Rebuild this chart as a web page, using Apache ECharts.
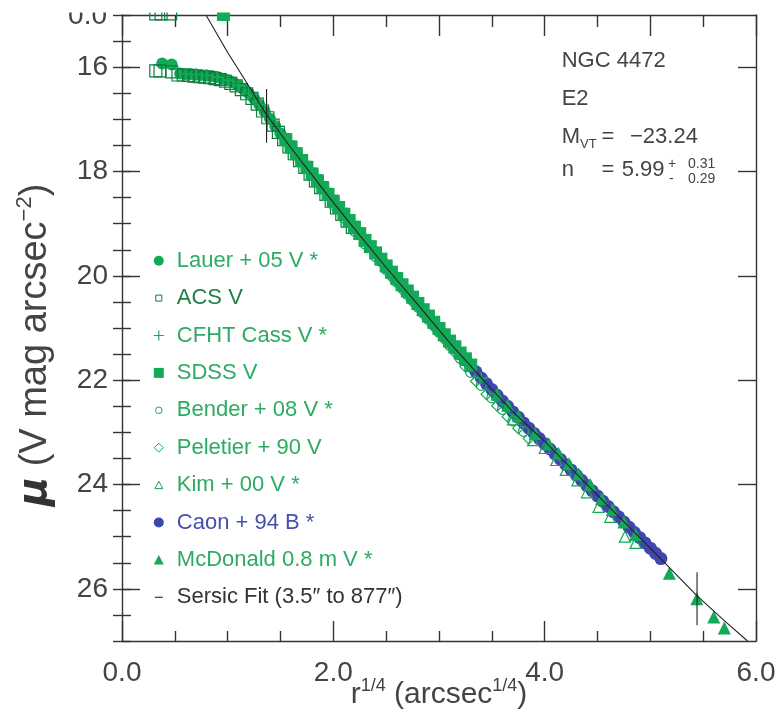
<!DOCTYPE html>
<html><head><meta charset="utf-8">
<script src="https://cdn.jsdelivr.net/npm/echarts@6/dist/echarts.min.js"></script>
<style>html,body{margin:0;padding:0;background:#fff}#c{width:778px;height:725px}</style>
</head><body><div id="c"></div>
<script>
// ---- tick values ----
const yTickValues = [16, 18, 20, 22, 24, 26];

// ---- data series: [r^(1/4), mu] ----
const lauer = [[0.38,15.93],[0.47,15.95],
 [0.55,16.12],[0.60,16.13],[0.65,16.13],[0.70,16.14],[0.75,16.15],[0.80,16.16],[0.85,16.17],[0.90,16.19],[0.95,16.22],[1.00,16.25],[1.05,16.29],[1.10,16.35],[1.15,16.42],[1.20,16.50],[1.25,16.60],[1.30,16.72],[1.35,16.85],[1.40,16.99],[1.45,17.13],[1.50,17.27],[1.55,17.41],[1.60,17.55],[1.65,17.68],[1.70,17.81],[1.75,17.94]];
const acs = [[0.32,14.98],[0.37,14.98],[0.46,14.98],[0.32,16.07],[0.36,16.07],[0.47,16.09],
 [0.53,16.15],[0.58,16.15],[0.63,16.16],[0.68,16.17],[0.73,16.18],[0.78,16.19],[0.83,16.20],[0.88,16.22],[0.93,16.24],[0.98,16.27],[1.03,16.31],[1.08,16.36],[1.13,16.43],[1.18,16.51],[1.23,16.60],[1.28,16.71],[1.33,16.84],[1.38,16.97],[1.43,17.11],[1.48,17.25],[1.53,17.39],[1.58,17.53],[1.63,17.66],[1.68,17.79],[1.73,17.92],[1.78,18.05],[1.83,18.18],[1.88,18.31],[1.93,18.44],[1.98,18.57],[2.03,18.70],[2.08,18.82],[2.13,18.95],[2.18,19.07]];
const cfht = [[0.60,16.13],[0.70,16.14],[0.80,16.16],[0.90,16.19],[1.00,16.25],[1.10,16.35],[1.20,16.50],[1.30,16.72],[1.40,16.99],[1.50,17.27],[1.60,17.55],[1.70,17.81],[1.80,18.07],[1.90,18.33],[2.00,18.59],[2.10,18.84],[2.20,19.09],[2.30,19.34],[2.40,19.58],[2.50,19.83],[2.60,20.07],[2.70,20.31],[2.80,20.55],[2.90,20.79],[3.00,21.03],[3.10,21.27],[3.20,21.50],[3.30,21.73],[3.40,21.96]];
const sdss = [[0.96,14.99],
 [1.55,17.39],[1.60,17.53],[1.65,17.66],[1.70,17.79],[1.75,17.92],[1.80,18.05],[1.85,18.18],[1.90,18.31],[1.95,18.44],[2.00,18.57],[2.05,18.69],[2.10,18.82],[2.15,18.94],[2.20,19.07],[2.25,19.19],[2.30,19.32],[2.35,19.44],[2.40,19.56],[2.45,19.68],[2.50,19.81],[2.55,19.93],[2.60,20.05],[2.65,20.17],[2.70,20.29],[2.75,20.41],[2.80,20.53],[2.85,20.65],[2.90,20.77],[2.95,20.89],[3.00,21.01],[3.05,21.13],[3.10,21.25],[3.15,21.36],[3.20,21.48],[3.25,21.59],[3.30,21.71]];
const bender = [[2.00,18.64],[2.10,18.89],[2.20,19.14],[2.30,19.39],[2.40,19.63],[2.50,19.88],[2.60,20.12],[2.70,20.36],[2.80,20.60],[2.90,20.84],[3.00,21.08],[3.10,21.33],[3.20,21.58],[3.30,21.85],[3.40,22.10],[3.50,22.34],[3.60,22.56],[3.70,22.78],[3.80,22.98]];
const peletier = [[2.55,20.02],[2.65,20.26],[2.75,20.50],[2.85,20.74],[2.95,20.98],[3.05,21.22],[3.15,21.47],[3.25,21.74],[3.35,22.02],[3.45,22.27],[3.55,22.49],[3.65,22.70],[3.75,22.92],[3.85,23.12]];
const kim = [[3.70,22.75],[3.89,23.15],[4.00,23.30],[4.11,23.53],[4.20,23.72],[4.31,23.92],[4.40,24.15],[4.51,24.43],[4.62,24.62],[4.76,25.00],[4.86,25.12]];
const caon = [[2.45,19.70],[2.50,19.83],[2.55,19.95],[2.60,20.07],[2.65,20.19],[2.70,20.31],[2.75,20.43],[2.80,20.55],[2.85,20.67],[2.90,20.79],[2.95,20.91],[3.00,21.03],[3.05,21.15],[3.10,21.27],[3.15,21.38],[3.20,21.50],[3.25,21.61],[3.30,21.73],[3.35,21.84],[3.40,21.96],[3.45,22.07],[3.50,22.18],[3.55,22.29],[3.60,22.40],[3.65,22.50],[3.70,22.61],[3.75,22.71],[3.80,22.82],[3.85,22.92],[3.90,23.02],[3.95,23.12],[4.00,23.22],[4.05,23.32],[4.10,23.42],[4.15,23.52],[4.20,23.62],[4.25,23.72],[4.30,23.82],[4.35,23.92],[4.40,24.02],[4.45,24.12],[4.50,24.22],[4.55,24.32],[4.60,24.42],[4.65,24.52],[4.70,24.62],[4.75,24.72],[4.80,24.82],[4.85,24.92],[4.90,25.02],[4.95,25.12],[5.00,25.22],[5.05,25.32],[5.10,25.42]];
const mcdonald = [[3.55,22.27],[3.65,22.48],[3.75,22.68],[3.91,23.02],[4.04,23.22],[4.13,23.40],[4.23,23.60],[4.32,23.80],[4.43,24.00],[4.54,24.27],[4.64,24.48],[4.75,24.72],[4.86,24.96],[5.18,25.70],[5.44,26.19],[5.60,26.54],[5.70,26.75]];
const sersic = [[0.80,15.02],[1.00,15.72],[1.20,16.36],[1.367,16.91],[1.60,17.55],[1.80,18.07],[1.967,18.51],[2.20,19.10],[2.50,19.84],[2.80,20.55],[3.10,21.28],[3.42,22.00],[3.70,22.61],[4.02,23.21],[4.30,23.79],[4.60,24.41],[4.90,25.02],[5.13,25.49],[5.44,26.13],[5.70,26.61],[5.92,27.00]];
// fit range markers (3.5" and 877")
const fitRangeX = [1.368, 5.442];
const errLow = [16.42, 25.68];
const errHigh = [17.45, 26.70];

const G = '#12a957', GD = '#0c7f3f', B = '#3d47ad', INK = '#333', TXT = '#444';
const LG = '#2dab62';
const FONT = 'Liberation Sans, Arial, sans-serif';
const plusPath = 'path://M0,4.3H10V5.7H0ZM4.3,0H5.7V10H4.3Z';
const NONE = 'rgba(0,0,0,0)';

const names = {
  lauer: 'Lauer + 05 V *', acs: 'ACS V', cfht: 'CFHT Cass V *', sdss: 'SDSS V',
  bender: 'Bender + 08 V *', peletier: 'Peletier + 90 V', kim: 'Kim + 00 V *',
  caon: 'Caon + 94 B *', mcd: 'McDonald 0.8 m V *', fit: 'Sersic Fit (3.5\u2033 to 877\u2033)'
};

function sc(name, data, symbol, size, style, extra) {
  return Object.assign({ name, type: 'scatter', data, symbol, symbolSize: size,
    itemStyle: Object.assign({ opacity: 1 }, style), clip: false, animation: false,
    emphasis: { disabled: true }, xAxisIndex: 0, yAxisIndex: 0 }, extra || {});
}
const openStyle = c => ({ color: NONE, borderColor: c, borderWidth: 1.2 });

const axisLineStyle = { color: INK, width: 1.4 };
const tickStyle = { color: INK, width: 1.4 };

const option = {
  animation: false,
  grid: { left: 122, top: 15, right: 22, bottom: 84, outerBoundsMode: 'none', containLabel: false },
  xAxis: [
    { type: 'value', position: 'bottom', min: 0, max: 6, interval: 2,
      axisLine: { onZero: false, lineStyle: axisLineStyle },
      axisTick: { inside: true, length: 20, lineStyle: tickStyle },
      minorTick: { show: true, splitNumber: 4, length: 10, lineStyle: tickStyle },
      splitLine: { show: false }, minorSplitLine: { show: false },
      axisLabel: { formatter: v => v.toFixed(1), fontSize: 28, color: TXT, margin: 18, fontFamily: FONT },
      name: '{t|r}{s|1/4}{t| (arcsec}{s|1/4}{t|)}', nameLocation: 'middle', nameGap: 36, nameMoveOverlap: false,
      nameTextStyle: { rich: {
        t: { fontSize: 30, lineHeight: 36, color: TXT, fontFamily: FONT },
        s: { fontSize: 18, lineHeight: 20, verticalAlign: 'top', color: TXT, fontFamily: FONT } } } },
    { type: 'value', position: 'top', min: 0, max: 6, interval: 1,
      axisLine: { onZero: false, lineStyle: axisLineStyle },
      axisTick: { inside: true, length: 21, lineStyle: tickStyle },
      minorTick: { show: true, splitNumber: 2, length: 12, lineStyle: tickStyle },
      splitLine: { show: false }, axisLabel: { show: false } }
  ],
  yAxis: [
    { type: 'value', position: 'left', min: 15, max: 27, inverse: true,
      axisLine: { onZero: false, lineStyle: axisLineStyle },
      axisTick: { inside: true, length: 18, customValues: yTickValues, lineStyle: tickStyle },
      axisLabel: { customValues: yTickValues, fontSize: 28, color: TXT, margin: 14, fontFamily: FONT },
      splitLine: { show: false },
      name: '{mu|\u03bc}{t| (V mag arcsec}{s|\u22122}{t|)}', nameLocation: 'middle', nameRotate: 90, nameGap: 64, nameMoveOverlap: false,
      nameTextStyle: { padding: [0, 34, 0, 0], rich: {
        mu: { fontSize: 40, lineHeight: 44, color: '#333', fontFamily: 'DejaVu Sans', fontWeight: 'bold', fontStyle: 'italic' },
        t: { fontSize: 38, lineHeight: 44, color: TXT, fontFamily: FONT },
        s: { fontSize: 22, lineHeight: 26, verticalAlign: 'top', color: TXT, fontFamily: FONT } } } },
    { type: 'value', position: 'left', min: 15, max: 27, inverse: true, interval: 0.5,
      axisLine: { show: false }, axisTick: { inside: true, length: 9, lineStyle: tickStyle },
      axisLabel: { show: false }, splitLine: { show: false } },
    { type: 'value', position: 'right', min: 15, max: 27, inverse: true,
      axisLine: { onZero: false, lineStyle: axisLineStyle },
      axisTick: { inside: true, length: 18, customValues: yTickValues, lineStyle: tickStyle },
      axisLabel: { show: false }, splitLine: { show: false } },
    { type: 'value', position: 'right', min: 15, max: 27, inverse: true, interval: 0.5,
      axisLine: { show: false }, axisTick: { inside: true, length: 9, lineStyle: tickStyle },
      axisLabel: { show: false }, splitLine: { show: false } }
  ],
  legend: {
    orient: 'vertical', left: 145.3, top: 249.7, itemWidth: 26, itemHeight: 10, itemGap: 15.4,
    padding: 0, selectedMode: false, symbolKeepAspect: true,
    textStyle: { fontSize: 22, lineHeight: 22, fontFamily: FONT, color: LG },
    data: [
      { name: names.lauer, icon: 'circle', itemStyle: { color: G, borderWidth: 0 } },
      { name: names.acs, icon: 'path://M0,0M26,10M10,2H16V8H10Z', itemStyle: { color: NONE, borderColor: GD, borderWidth: 1 }, textStyle: { color: '#1f8047' } },
      { name: names.cfht, icon: 'path://M0,0M26,10M7.5,4.4H18.5V5.6H7.5ZM12.4,-0.5H13.6V10.5H12.4Z', itemStyle: { color: G, borderWidth: 0 } },
      { name: names.sdss, icon: 'path://M0,0M26,10M8,0H18V10H8Z', itemStyle: { color: G, borderWidth: 0 } },
      { name: names.bender, icon: 'path://M0,0M26,10M16.3,5A3.3,3.3,0,1,1,9.7,5A3.3,3.3,0,1,1,16.3,5Z', itemStyle: { color: NONE, borderColor: G, borderWidth: 1 } },
      { name: names.peletier, icon: 'path://M0,0M26,10M13,0.5L17.5,5L13,9.5L8.5,5Z', itemStyle: { color: NONE, borderColor: G, borderWidth: 1 } },
      { name: names.kim, icon: 'path://M0,0M26,10M13,1L17,8.5H9Z', itemStyle: { color: NONE, borderColor: G, borderWidth: 1 } },
      { name: names.caon, icon: 'circle', itemStyle: { color: B, borderWidth: 0 }, textStyle: { color: '#4650b0' } },
      { name: names.mcd, icon: 'path://M0,0M26,10M13,0L18,9.5H8Z', itemStyle: { color: G, borderWidth: 0 } },
      { name: names.fit, icon: 'path://M0,0M26,10M9,4.4H17V5.6H9Z', itemStyle: { color: '#333', borderWidth: 0 }, textStyle: { color: '#333' } }
    ]
  },
  graphic: [
    { type: 'text', x: 107, y: 16.3, z: 50, style: { text: '0.0', fontSize: 28, fontFamily: FONT, fill: TXT, align: 'right', textAlign: 'right', verticalAlign: 'middle', textVerticalAlign: 'middle' } },
    { type: 'rect', shape: { x: 0, y: 0, width: 778, height: 12.5 }, style: { fill: '#fff' }, z: 100 },
    ...[
      ['NGC 4472', 561.7, 61.3, 22], ['E2', 561.7, 98.5, 22], ['M', 561.7, 136.7, 22], ['VT', 580, 144, 13],
      ['=', 601.5, 136.7, 22], ['\u221223.24', 630, 136.7, 22],
      ['n', 561.7, 170, 22], ['=', 601.5, 170, 22], ['5.99', 621.7, 170, 22],
      ['+', 668, 164.5, 14], ['0.31', 688, 164.5, 14], ['-', 669, 179.5, 14], ['0.29', 688, 179.5, 14]
    ].map(([t, x, y, fs]) => ({ type: 'text', x, y, z: 60,
      style: { text: t, fontSize: fs, fontFamily: FONT, fill: TXT, align: 'left', textAlign: 'left', verticalAlign: 'middle', textVerticalAlign: 'middle' } }))
  ],
  series: [
    sc(names.caon, caon, 'circle', 13, { color: B }),
    sc(names.lauer, lauer, 'circle', 12, { color: G }),
    sc(names.acs, acs, 'rect', 12, openStyle(GD)),
    sc(names.cfht, cfht, plusPath, 12, { color: G }),
    sc(names.sdss, sdss, 'rect', 13, { color: G }),
    sc(names.bender, bender, 'circle', 10, openStyle(G)),
    sc(names.peletier, peletier, 'diamond', 11, openStyle(G)),
    sc(names.kim, kim, 'triangle', 11, openStyle(G)),
    sc(names.mcd, mcdonald, 'triangle', 13, { color: G }),
    { name: names.fit, type: 'line', data: sersic, symbol: 'none', lineStyle: { color: '#222', width: 1.1 },
      itemStyle: { color: '#222' }, z: 5, xAxisIndex: 0, yAxisIndex: 0, animation: false },
    { name: 'fitInner', type: 'line', data: [[fitRangeX[0], errLow[0]], [fitRangeX[0], errHigh[0]]], symbol: 'none',
      lineStyle: { color: '#222', width: 1.1 }, z: 5, xAxisIndex: 0, yAxisIndex: 0, animation: false },
    { name: 'fitOuter', type: 'line', data: [[fitRangeX[1], errLow[1]], [fitRangeX[1], errHigh[1]]], symbol: 'none',
      lineStyle: { color: '#222', width: 1.1 }, z: 5, xAxisIndex: 0, yAxisIndex: 0, animation: false }
  ]
};
const chart = echarts.init(document.getElementById('c'), null, { renderer: 'canvas' });
chart.setOption(option);
</script></body></html>
